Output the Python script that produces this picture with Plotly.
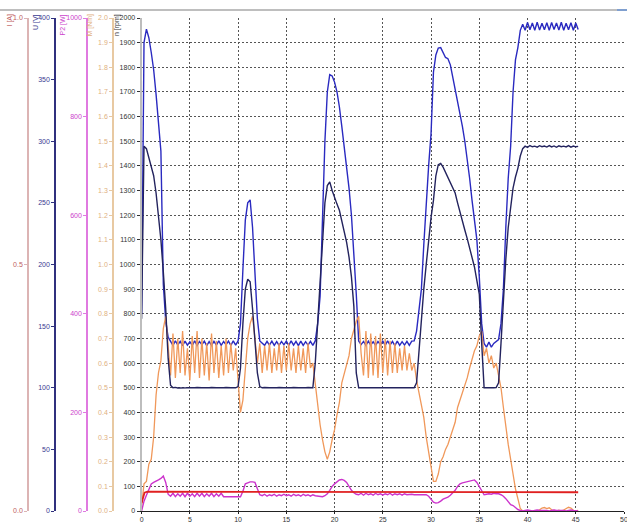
import plotly.graph_objects as go

# time grid (s), 0.25 s step, 0 .. 45.25
t = [i * 0.25 for i in range(182)]

n_rpm = [
    800, 1900, 1955, 1920,      # 0
    1860, 1790, 1690, 1570,     # 1
    1460, 920, 770, 705,        # 2
    688, 672, 690, 674,         # 3
    688, 671, 689, 673,         # 4
    687, 672, 690, 672,         # 5
    688, 674, 689, 671,         # 6
    687, 672, 688, 673,         # 7
    690, 672, 688, 674,         # 8
    689, 672, 690, 673,         # 9
    690, 760, 980, 1180,        # 10
    1250, 1262, 1150, 950,      # 11
    780, 690, 680, 672,         # 12
    688, 673, 689, 672,         # 13
    687, 672, 688, 674,         # 14
    689, 672, 690, 673,         # 15
    688, 671, 689, 672,         # 16
    687, 673, 688, 672,         # 17
    690, 760, 870, 1180,        # 18
    1500, 1700, 1770, 1765,     # 19
    1740, 1700, 1640, 1560,     # 20
    1480, 1400, 1310, 1200,     # 21
    1050, 880, 690, 675,        # 22
    688, 672, 689, 673,         # 23
    687, 672, 688, 674,         # 24
    689, 672, 690, 673,         # 25
    688, 671, 689, 672,         # 26
    687, 673, 688, 672,         # 27
    689, 690, 730, 820,         # 28
    900, 1080, 1250, 1400,      # 29
    1530, 1780, 1850, 1878,     # 30
    1880, 1860, 1840, 1835,     # 31
    1810, 1760, 1710, 1670,     # 32
    1620, 1560, 1500, 1430,     # 33
    1350, 1260, 1180, 1100,     # 34
    950, 760, 680, 665,         # 35
    685, 665, 680, 688,         # 36
    695, 760, 900, 1150,        # 37
    1350, 1480, 1700, 1830,     # 38
    1880, 1950, 1975, 1950,     # 39
    1982, 1952, 1980, 1950,     # 40
    1983, 1951, 1979, 1952,     # 41
    1981, 1950, 1982, 1953,     # 42
    1980, 1951, 1983, 1950,     # 43
    1979, 1952, 1981, 1950,     # 44
    1980, 1953,                 # 45
]

U_volt = [
    156, 296, 294, 286,         # 0
    280, 272, 258, 240,         # 1
    220, 194, 164, 124,         # 2
    102, 100, 100.3, 99.8,      # 3
    100, 100.2, 99.9, 100,      # 4
    100.1, 99.8, 100, 100.2,    # 5
    99.9, 100, 100.1, 99.8,     # 6
    100, 100.2, 99.9, 100,      # 7
    100.1, 99.9, 100, 100.2,    # 8
    99.9, 100, 100.1, 100,      # 9
    101, 116, 152, 180,         # 10
    188, 186, 164, 136,         # 11
    112, 101, 100, 100.2,       # 12
    99.8, 100, 100.1, 99.9,     # 13
    100, 100.2, 99.9, 100,      # 14
    100.1, 99.8, 100, 100.2,    # 15
    99.9, 100, 100.1, 99.8,     # 16
    100, 100.2, 99.9, 100,      # 17
    120, 152, 180, 216,         # 18
    250, 264, 267, 260,         # 19
    254, 249, 244, 236,         # 20
    228, 218, 206, 190,         # 21
    166, 112, 100, 100,         # 22
    100.2, 99.8, 100, 100.1,    # 23
    99.9, 100, 100.2, 99.8,     # 24
    100, 100.1, 99.9, 100,      # 25
    100.2, 99.8, 100, 100.1,    # 26
    99.9, 100, 100.2, 99.8,     # 27
    100, 100, 104, 130,         # 28
    160, 180, 200, 220,         # 29
    238, 252, 272, 281,         # 30
    282, 279, 275, 271,         # 31
    267, 263, 258, 250,         # 32
    242, 235, 228, 221,         # 33
    214, 207, 198, 187,         # 34
    176, 136, 100, 100,         # 35
    100.2, 99.8, 100, 100.1,    # 36
    104, 136, 172, 204,         # 37
    230, 248, 262, 271,         # 38
    278, 288, 294, 296,         # 39
    295, 296.5, 295.5, 296,     # 40
    295.2, 296.4, 295.6, 296.1, # 41
    295.3, 296.5, 295.4, 296.2, # 42
    295.1, 296.3, 295.6, 296,   # 43
    295.4, 296.5, 295.2, 296.1, # 44
    295.5, 295.8,               # 45
]

M_nm = [
    0.02, 0.11, 0.12, 0.19,     # 0
    0.21, 0.30, 0.47, 0.56,     # 1
    0.61, 0.74, 0.79, 0.66,     # 2
    0.55, 0.72, 0.54, 0.70,     # 3
    0.56, 0.73, 0.55, 0.66,     # 4
    0.53, 0.71, 0.56, 0.73,     # 5
    0.54, 0.70, 0.55, 0.68,     # 6
    0.53, 0.72, 0.56, 0.69,     # 7
    0.54, 0.67, 0.55, 0.70,     # 8
    0.56, 0.68, 0.57, 0.66,     # 9
    0.52, 0.40, 0.45, 0.58,     # 10
    0.70, 0.76, 0.79, 0.70,     # 11
    0.60, 0.68, 0.56, 0.67,     # 12
    0.57, 0.68, 0.56, 0.66,     # 13
    0.57, 0.68, 0.56, 0.67,     # 14
    0.57, 0.68, 0.57, 0.66,     # 15
    0.56, 0.67, 0.57, 0.66,     # 16
    0.56, 0.68, 0.58, 0.60,     # 17
    0.52, 0.42, 0.35, 0.29,     # 18
    0.24, 0.21, 0.24, 0.29,     # 19
    0.33, 0.39, 0.44, 0.52,     # 20
    0.56, 0.60, 0.63, 0.70,     # 21
    0.74, 0.77, 0.79, 0.64,     # 22
    0.55, 0.73, 0.54, 0.72,     # 23
    0.55, 0.71, 0.54, 0.72,     # 24
    0.56, 0.70, 0.55, 0.69,     # 25
    0.56, 0.68, 0.56, 0.66,     # 26
    0.57, 0.67, 0.57, 0.64,     # 27
    0.57, 0.60, 0.53, 0.48,     # 28
    0.44, 0.38, 0.30, 0.24,     # 29
    0.17, 0.12, 0.12, 0.15,     # 30
    0.20, 0.22, 0.25, 0.27,     # 31
    0.30, 0.33, 0.36, 0.42,     # 32
    0.45, 0.48, 0.51, 0.54,     # 33
    0.58, 0.62, 0.65, 0.67,     # 34
    0.71, 0.73, 0.63, 0.66,     # 35
    0.60, 0.63, 0.58, 0.60,     # 36
    0.55, 0.50, 0.42, 0.34,     # 37
    0.27, 0.21, 0.15, 0.09,     # 38
    0.05, 0.01, 0.00, 0.00,     # 39
    0.00, 0.002, 0.00, 0.003,   # 40
    0.00, 0.005, 0.012, 0.014,  # 41
    0.010, 0.013, 0.005, 0.002, # 42
    0.00, 0.003, 0.00, 0.004,   # 43
    0.010, 0.015, 0.012, 0.003, # 44
    0.00, 0.002,                # 45
]

P2_watt = [
    0, 20, 32, 45,              # 0
    55, 58, 60, 63,             # 1
    66, 71, 58, 34,             # 2
    30, 36, 29, 35,             # 3
    30, 36, 29, 36,             # 4
    30, 35, 29, 36,             # 5
    30, 36, 29, 35,             # 6
    30, 36, 29, 35,             # 7
    30, 36, 29, 29,             # 8
    29, 29, 29, 29,             # 9
    29, 29, 40, 55,             # 10
    57, 59, 59, 58,             # 11
    45, 33, 31, 34,             # 12
    30, 33, 31, 34,             # 13
    30, 33, 31, 34,             # 14
    31, 33, 30, 34,             # 15
    31, 33, 30, 34,             # 16
    31, 33, 30, 33,             # 17
    31, 30, 29, 29,             # 18
    31, 35, 42, 50,             # 19
    55, 60, 63, 64,             # 20
    62, 58, 50, 42,             # 21
    37, 34, 33, 36,             # 22
    32, 36, 33, 35,             # 23
    32, 36, 33, 35,             # 24
    32, 35, 33, 36,             # 25
    32, 35, 33, 35,             # 26
    32, 35, 33, 34,             # 27
    34, 33, 33, 34,             # 28
    34, 33, 33, 30,             # 29
    24, 18, 16, 17,             # 30
    20, 24, 26, 28,             # 31
    32, 37, 42, 50,             # 32
    55, 57, 58, 59,             # 33
    60, 62, 63, 58,             # 34
    50, 40, 33, 34,             # 35
    35, 34, 36, 35,             # 36
    35, 33, 30, 25,             # 37
    18, 13, 11, 6,              # 38
    3, 1, 0, 1,                 # 39
    2, 1, 0, 1,                 # 40
    2, 1, 1, 2,                 # 41
    1, 0, 1, 2,                 # 42
    1, 1, 2, 1,                 # 43
    0, 1, 2, 1,                 # 44
    1, 0,                       # 45
]

t_I = [0, 0.15, 0.3, 0.6, 1.0, 5, 10, 15, 20, 25, 30, 35, 40, 44.8, 45.25]
I_amp = [0.016, 0.03, 0.037, 0.039, 0.039, 0.039, 0.039, 0.039, 0.039, 0.039, 0.039, 0.039, 0.039, 0.039, 0.038]

W, H = 627, 525
ML, MR, MT, MB = 0, 3, 18, 14
PW = W - ML - MR
PH = H - MT - MB
x0frac = 141.6 / PW

fig = go.Figure()
fig.add_trace(go.Scatter(x=t, y=M_nm, yaxis="y2", mode="lines",
                         line=dict(color="#f0985a", width=1.3), name="M"))
fig.add_trace(go.Scatter(x=t, y=P2_watt, yaxis="y3", mode="lines",
                         line=dict(color="#cc33cc", width=1.4), name="P2"))
fig.add_trace(go.Scatter(x=t_I, y=I_amp, yaxis="y5", mode="lines",
                         line=dict(color="#e02020", width=1.8), name="I"))
fig.add_trace(go.Scatter(x=t, y=U_volt, yaxis="y4", mode="lines",
                         line=dict(color="#23235e", width=1.4), name="U"))
fig.add_trace(go.Scatter(x=t, y=n_rpm, yaxis="y", mode="lines",
                         line=dict(color="#2a2ac0", width=1.4), name="n"))

tickfont = dict(family="Liberation Sans, Arial, sans-serif", size=7)
grid = dict(showgrid=True, gridcolor="#555555", gridwidth=1, griddash="2px,2px")

def side_axis(pos, rng, dtick, linecol, labcol, fmt=None):
    d = dict(overlaying="y", anchor="free", position=pos, side="left",
             range=rng, dtick=dtick, tick0=0, showgrid=False, zeroline=False,
             showline=True, linecolor=linecol, linewidth=1.5,
             ticks="outside", ticklen=3, tickcolor=linecol,
             tickfont=dict(tickfont, color=labcol), automargin=False,
             fixedrange=True)
    if fmt:
        d["tickformat"] = fmt
    return d

fig.update_layout(
    width=W, height=H,
    margin=dict(l=ML, r=MR, t=MT, b=MB, autoexpand=False),
    paper_bgcolor="white", plot_bgcolor="white",
    showlegend=False,
    xaxis=dict(domain=[x0frac, 1], range=[0, 50], dtick=5, tick0=0,
               **grid, zeroline=False, showline=True, linecolor="#222222",
               linewidth=1, ticks="outside", ticklen=2, tickcolor="#222222",
               ticklabeloverflow="allow",
               tickfont=dict(tickfont, color="#333333"), automargin=False),
    yaxis=dict(range=[0, 2000], dtick=100, tick0=0, **grid, zeroline=False,
               showline=True, linecolor="#bdbdbd", linewidth=2,
               ticks="outside", ticklen=3, tickcolor="#333333",
               tickfont=dict(tickfont, color="#333333"), automargin=False),
    yaxis2=side_axis(113 / PW, [0, 2], 0.1, "#e8c9a2", "#e0b080", ".1f"),
    yaxis3=side_axis(87 / PW, [0, 1000], 200, "#e07ae0", "#cc44cc"),
    yaxis4=side_axis(55 / PW, [0, 400], 50, "#30307e", "#3a3a90"),
    yaxis5=side_axis(28 / PW, [0, 1], 0.5, "#dcb4b4", "#c06060", ".1f"),
)

titles = [("I [A]", 9, "#c06060"), ("U [V]", 36, "#3a3a90"),
          ("P2 [W]", 62, "#cc44cc"), ("M [Nm]", 89, "#e0b080"),
          ("n [rpm]", 117, "#333333")]
for txt, px, col in titles:
    fig.add_annotation(text=txt, x=px / PW, y=1 + (MT - 12) / PH,
                       xref="paper", yref="paper", xanchor="center",
                       yanchor="top", textangle=-90, showarrow=False,
                       font=dict(family="Liberation Sans, Arial, sans-serif",
                                 size=7, color=col))

# top frame line
fig.add_shape(type="line", xref="paper", yref="paper", x0=0, x1=1.005,
              y0=1 + (MT - 10) / PH, y1=1 + (MT - 10) / PH,
              line=dict(color="#a8a8a8", width=1.5))
fig.add_shape(type="line", xref="paper", yref="paper", x0=617 / PW, x1=1.005,
              y0=1 + (MT - 10) / PH, y1=1 + (MT - 10) / PH,
              line=dict(color="#7f9fcf", width=2))

fig.write_html("out.html",
               config={"displayModeBar": False},
               post_script="document.body.style.margin='0';"
                           "document.body.style.overflow='hidden';")
